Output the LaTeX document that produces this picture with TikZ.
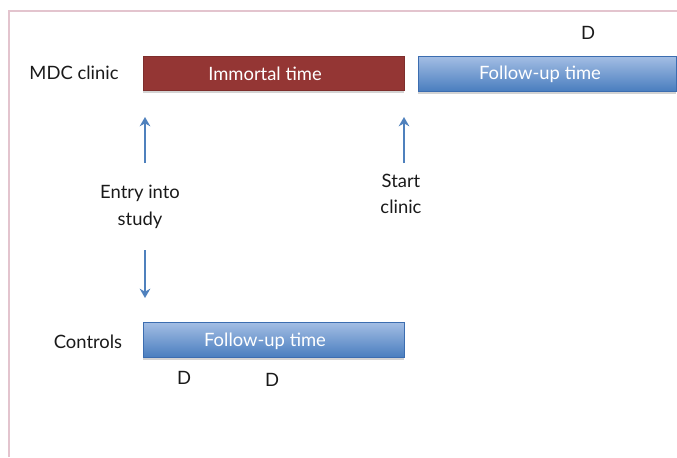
\documentclass[tikz,border=0pt]{standalone}
\usepackage{fontspec}
\setmainfont{Lato}
\usetikzlibrary{shadows,arrows.meta}
\definecolor{redbar}{HTML}{943634}
\definecolor{bluetop}{HTML}{A4BEE4}
\definecolor{bluebot}{HTML}{4A7EBF}
\definecolor{blueedge}{HTML}{3C6DB0}
\definecolor{arrowblue}{HTML}{4F81BD}
\definecolor{framepink}{HTML}{E3C4CE}
\definecolor{txt}{HTML}{1A1A1A}
\begin{document}
\begin{tikzpicture}[x=0.75pt,y=-0.75pt,
  lbl/.style={font=\fontsize{13.8}{20}\selectfont, text=txt, align=center},
  bartext/.style={font=\fontsize{13.8}{20}\selectfont, text=white},
  barshadow/.style={drop shadow={opacity=0.35, shadow xshift=0pt, shadow yshift=-2pt}},
  redbarstyle/.style={fill=redbar, draw=redbar!85!black, line width=0.4pt, barshadow},
  bluebarstyle/.style={top color=bluetop, bottom color=bluebot, draw=blueedge, line width=0.6pt, barshadow},
  uparrow/.style={draw=arrowblue, line width=1.8pt, -{Stealth[length=7pt,width=8pt]}}
]
\useasboundingbox (0,0) rectangle (677,457);
% frame
\draw[framepink, line width=1.2pt] (9,457) -- (9,11) -- (677,11);

% bars
\path[redbarstyle] (143,56) rectangle (404,90);
\node[bartext] (imm) at (265,74) {Immortal time};
\path[bluebarstyle] (418,56) rectangle (676,91);
\node[bartext] (fu1) at (540,74) {Follow-up time};
\path[bluebarstyle] (143,322) rectangle (404,357);
\node[bartext] (fu2) at (265,341) {Follow-up time};

% labels
\node[lbl] (mdc) at (74,73) {MDC clinic};
\node[lbl] (ctl) at (88,342) {Controls};
\node[lbl] (d1) at (588,33) {D};
\node[lbl] (d2) at (184,378) {D};
\node[lbl] (d3) at (272,380) {D};
\node[lbl] (entry) at (140,207) {Entry into\\study};
\node[lbl] (start) at (401,194) {Start\\clinic};

% arrows
\coordinate (a1s) at (145,163);
\coordinate (a1e) at (145,117);
\coordinate (a2s) at (145,250);
\coordinate (a2e) at (145,298);
\coordinate (a3s) at (404,163);
\coordinate (a3e) at (404,117);
\draw[uparrow] (a1s) -- (a1e);
\draw[uparrow] (a2s) -- (a2e);
\draw[uparrow] (a3s) -- (a3e);
\end{tikzpicture}
\end{document}
